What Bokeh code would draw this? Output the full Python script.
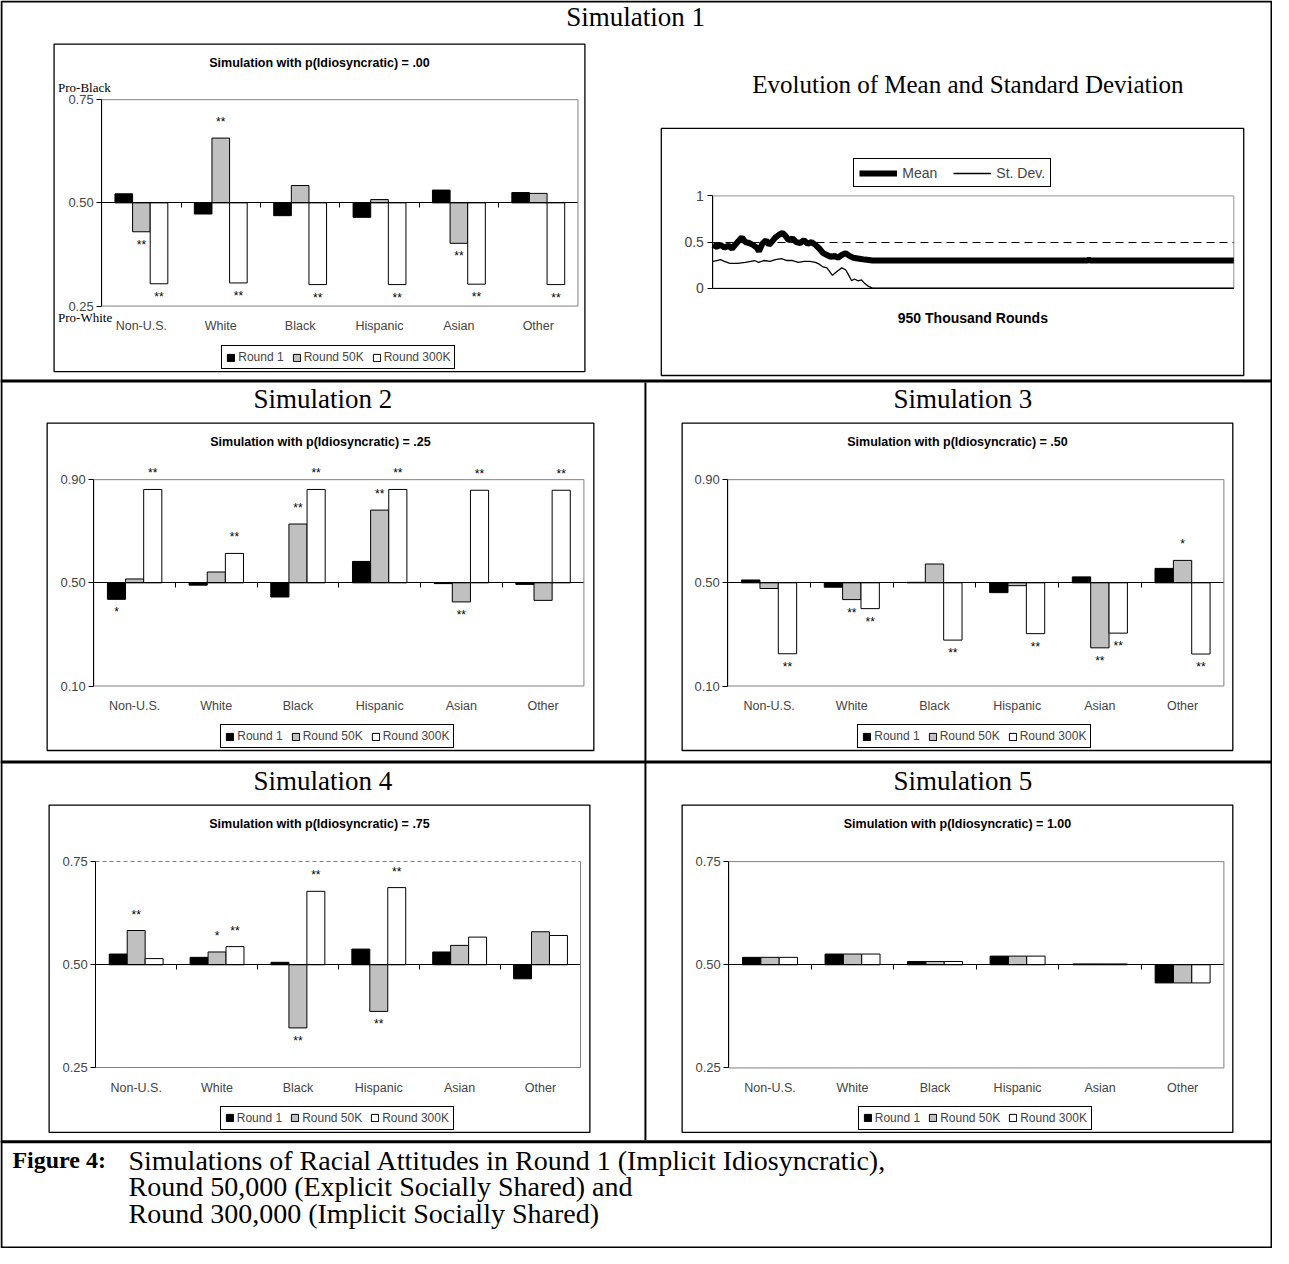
from bokeh.plotting import figure
from bokeh.models import (Range1d, LinearAxis, FixedTicker, Label, LabelSet, Legend, LegendItem,
                          Span, BoxAnnotation, ColumnDataSource, NumeralTickFormatter,
                          CustomJSTickFormatter)
from bokeh.core.properties import value
from bokeh.embed import file_html
from bokeh.resources import INLINE

SERIF = "Liberation Serif"
SANS = "Liberation Sans"

# ---------------- data ----------------
categories = ["Non-U.S.", "White", "Black", "Hispanic", "Asian", "Other"]
rounds = ["Round 1", "Round 50K", "Round 300K"]

sim1_r1 = [0.522, 0.473, 0.469, 0.465, 0.531, 0.525]
sim1_r50 = [0.430, 0.657, 0.542, 0.508, 0.402, 0.523]
sim1_r300 = [0.304, 0.306, 0.302, 0.302, 0.303, 0.302]
sim1_s1 = ["", "", "", "", "", ""]
sim1_s50 = ["**", "**", "", "", "**", ""]
sim1_s300 = ["**", "**", "**", "**", "**", "**"]

sim2_r1 = [0.436, 0.491, 0.445, 0.583, 0.497, 0.494]
sim2_r50 = [0.515, 0.542, 0.728, 0.782, 0.426, 0.432]
sim2_r300 = [0.862, 0.614, 0.862, 0.862, 0.859, 0.859]
sim2_s1 = ["*", "", "", "", "", ""]
sim2_s50 = ["", "", "**", "**", "**", ""]
sim2_s300 = ["**", "**", "**", "**", "**", "**"]

sim3_r1 = [0.511, 0.483, 0.502, 0.462, 0.523, 0.556]
sim3_r50 = [0.478, 0.435, 0.573, 0.489, 0.248, 0.587]
sim3_r300 = [0.225, 0.400, 0.278, 0.303, 0.305, 0.224]
sim3_s1 = ["", "", "", "", "", ""]
sim3_s50 = ["", "**", "", "", "**", "*"]
sim3_s300 = ["**", "**", "**", "**", "**", "**"]

sim4_r1 = [0.526, 0.518, 0.506, 0.538, 0.531, 0.466]
sim4_r50 = [0.583, 0.531, 0.347, 0.387, 0.547, 0.580]
sim4_r300 = [0.515, 0.544, 0.678, 0.687, 0.567, 0.571]
sim4_s1 = ["", "", "", "", "", ""]
sim4_s50 = ["**", "*", "**", "**", "", ""]
sim4_s300 = ["", "**", "**", "**", "", ""]

sim5_r1 = [0.518, 0.526, 0.508, 0.521, 0.502, 0.456]
sim5_r50 = [0.518, 0.526, 0.508, 0.521, 0.502, 0.456]
sim5_r300 = [0.518, 0.526, 0.508, 0.521, 0.502, 0.456]
sim5_s = ["", "", "", "", "", ""]

# evolution chart (x in thousand rounds)
evo_mean_k = [0, 7, 14, 21, 28, 35, 42, 48, 53, 59, 66, 73, 80, 84, 90, 97, 102, 107, 114, 121,
              127, 132, 138, 145, 152, 159, 166, 173, 180, 187, 194, 201, 208, 215, 222, 228, 235,
              242, 249, 256, 267, 277, 291, 400, 560, 683, 686, 689, 800, 950]
evo_mean = [0.47, 0.45, 0.47, 0.44, 0.46, 0.43, 0.48, 0.52, 0.55, 0.50, 0.49, 0.47, 0.44, 0.40,
            0.48, 0.52, 0.47, 0.50, 0.55, 0.58, 0.60, 0.57, 0.52, 0.54, 0.50, 0.49, 0.52, 0.48,
            0.50, 0.47, 0.43, 0.38, 0.36, 0.34, 0.35, 0.33, 0.36, 0.38, 0.35, 0.33, 0.32, 0.31,
            0.30, 0.30, 0.30, 0.30, 0.31, 0.30, 0.30, 0.30]
evo_sd_k = [0, 7, 14, 21, 31, 45, 59, 69, 76, 83, 93, 104, 114, 125, 135, 145, 156, 166, 177, 187,
            194, 201, 208, 213, 218, 224, 228, 235, 242, 247, 253, 258, 265, 271, 277, 284, 291, 950]
evo_sd = [0.29, 0.30, 0.31, 0.29, 0.27, 0.27, 0.28, 0.29, 0.30, 0.28, 0.30, 0.29, 0.31, 0.32, 0.30,
          0.30, 0.28, 0.29, 0.29, 0.28, 0.26, 0.23, 0.22, 0.18, 0.14, 0.17, 0.19, 0.22, 0.20, 0.15,
          0.08, 0.10, 0.08, 0.09, 0.05, 0.02, 0.00, 0.00]
evo_ticks = [0, 0.5, 1]

# ---------------- page canvas (page coordinates, y downwards) ----------------
W, H = 1272, 1248
RX0, RX1, RY0, RY1 = 5, 1287, 5, 1263
SX = W / (RX1 - RX0)
SY = H / (RY1 - RY0)

p = figure(width=W, height=H, x_range=Range1d(RX0, RX1), y_range=Range1d(RY1, RY0),
           min_border=0, x_axis_location=None, y_axis_location=None, toolbar_location=None,
           output_backend="svg", outline_line_color=None,
           background_fill_color="white", border_fill_color="white")
p.xgrid.visible = False
p.ygrid.visible = False

xr, yr = {}, {}


def add_ranges(name, lo_x, hi_x, PL, PR, lo_y, hi_y, PT, PB):
    kx = (hi_x - lo_x) * (RX1 - RX0) / (PR - PL)
    a = lo_x - kx * (PL - RX0) / (RX1 - RX0)
    xr[name] = Range1d(a, a + kx)
    m = (hi_y - lo_y) * (RY1 - RY0) / (PB - PT)
    c = lo_y - m * (RY1 - PB) / (RY1 - RY0)
    yr[name] = Range1d(c, c + m)


def text(t, x, y, size, font=SERIF, style="normal", align="center"):
    p.add_layout(Label(x=x, y=y, text=t, text_font=font, text_font_size=size,
                       text_font_style=style, text_align=align, text_baseline="middle",
                       text_color="black"))


def box(l, r, t, b, color="black", width=1, level="annotation", dash="solid"):
    p.add_layout(BoxAnnotation(left=l, right=r, top=t, bottom=b, fill_alpha=0,
                               line_color=color, line_alpha=1, line_width=width,
                               line_dash=dash, level=level))


def edge(name, side, loc, bounds, color, dash="solid"):
    ax = LinearAxis(x_range_name=name, y_range_name=name, fixed_location=loc, bounds=bounds,
                    ticker=FixedTicker(ticks=[]), axis_line_color=color, axis_line_dash=dash,
                    major_tick_line_color=None, minor_tick_line_color=None,
                    formatter=CustomJSTickFormatter(code="return ''"))
    p.add_layout(ax, side)


def screen(xref, yref):
    return ((xref - RX0) * SX, (RY1 - yref) * SY)


def bar_chart(name, title, bx, pl, ylo, yhi, yticks, series, stars, title_y,
              pro=False, dashed_top=False):
    BL, BR, BT, BB = bx
    PL, PR, PT, PB = pl
    n = len(categories)
    add_ranges(name, 0, n, PL, PR, ylo, yhi, PT, PB)
    box(BL, BR, BT, BB, width=1.3)
    if dashed_top:
        edge(name, "below", yhi, (0, n), "#808080", "4 3")
        edge(name, "below", ylo, (0, n), "#808080")
        edge(name, "right", n, (ylo, yhi), "#808080")
    else:
        box(PL, PR, PT, PB, color="#808080", level="underlay")
    offs = [-0.222, 0.0, 0.222]
    fills = ["black", "#c0c0c0", "white"]
    rends = []
    for vals, st, off, fc in zip(series, stars, offs, fills):
        src = ColumnDataSource(dict(x=[i + 0.5 + off for i in range(n)], top=vals))
        rends.append(p.vbar(x="x", top="top", bottom=0.5, width=0.222, source=src,
                            fill_color=fc, line_color="black", line_width=1,
                            x_range_name=name, y_range_name=name))
        idx = [i for i, s in enumerate(st) if s]
        if idx:
            ssrc = ColumnDataSource(dict(x=[i + 0.5 + off for i in idx],
                                         v=[vals[i] for i in idx],
                                         t=[st[i] for i in idx],
                                         off=[16 if vals[i] >= 0.5 else -13 for i in idx]))
            p.add_layout(LabelSet(x="x", y="v", text="t", y_offset="off", source=ssrc,
                                  x_range_name=name, y_range_name=name,
                                  text_align="center", text_baseline="middle",
                                  text_font=value(SANS), text_font_size="12px",
                                  text_color="black"))
    # value axis
    yax = LinearAxis(x_range_name=name, y_range_name=name, fixed_location=0,
                     bounds=(ylo, yhi), ticker=FixedTicker(ticks=yticks),
                     formatter=NumeralTickFormatter(format="0.00"),
                     major_tick_out=5, major_tick_in=0, minor_tick_out=0, minor_tick_in=0,
                     axis_line_color="black", major_tick_line_color="black",
                     major_label_text_font=SANS, major_label_text_font_size="13px",
                     major_label_standoff=3)
    p.add_layout(yax, "left")
    # category labels along the bottom
    cax = LinearAxis(x_range_name=name, y_range_name=name, fixed_location=ylo,
                     bounds=(0, n), ticker=FixedTicker(ticks=[i + 0.5 for i in range(n)]),
                     major_label_overrides={i + 0.5: c for i, c in enumerate(categories)},
                     major_tick_out=0, major_tick_in=0, minor_tick_out=0, minor_tick_in=0,
                     axis_line_color=None, major_tick_line_color=None,
                     major_label_text_font=SANS, major_label_text_font_size="12.5px",
                     major_label_standoff=13)
    p.add_layout(cax, "below")
    # 0.50 line with ticks between categories
    mid = LinearAxis(x_range_name=name, y_range_name=name, fixed_location=0.5,
                     bounds=(0, n), ticker=FixedTicker(ticks=list(range(1, n))),
                     formatter=CustomJSTickFormatter(code="return ''"),
                     major_tick_out=5, major_tick_in=0, minor_tick_out=0, minor_tick_in=0,
                     axis_line_color="black", major_tick_line_color="black")
    p.add_layout(mid, "below")
    text(title, (BL + BR) / 2, title_y, "12.5px", SANS, "bold")
    if pro:
        text("Pro-Black", BL + 4, PT - 12, "13px", SERIF, "normal", "left")
        text("Pro-White", BL + 4, PB + 12, "13px", SERIF, "normal", "left")
    lx, ly = screen((PL + PR) / 2 - 119, BB - 2)
    leg = Legend(items=[LegendItem(label=rn, renderers=[r]) for rn, r in zip(rounds, rends)],
                 orientation="horizontal", location=(lx, ly),
                 glyph_width=9, glyph_height=9, label_standoff=3, spacing=8, padding=4,
                 label_height=12, label_text_font=SANS, label_text_font_size="12px",
                 border_line_color="black", border_line_width=1, border_line_alpha=1,
                 margin=0, background_fill_color="white", background_fill_alpha=1)
    p.add_layout(leg)


# ---------------- table frame and headings ----------------
box(6, 1286, 6, 1262, width=2)
for ysep in (388.5, 772.5, 1155.5):
    p.add_layout(Span(location=ysep, dimension="width", line_color="black", line_width=3))
p.add_layout(BoxAnnotation(left=654, right=656, top=390, bottom=1154, fill_color="black",
                           fill_alpha=1, line_color=None))

HEAD = "27px"
text("Simulation 1", 645, 22, HEAD)
text("Evolution of Mean and Standard Deviation", 980, 90, "25px")
text("Simulation 2", 330, 407, HEAD)
text("Simulation 3", 975, 407, HEAD)
text("Simulation 4", 330, 792, HEAD)
text("Simulation 5", 975, 792, HEAD)

text("Figure 4:", 17, 1174, "24px", SERIF, "bold", "left")
text("Simulations of Racial Attitudes in Round 1 (Implicit Idiosyncratic),", 134, 1174,
     "28px", SERIF, "normal", "left")
text("Round 50,000 (Explicit Socially Shared) and", 134, 1201, "28px", SERIF, "normal", "left")
text("Round 300,000 (Implicit Socially Shared)", 134, 1228, "28px", SERIF, "normal", "left")

# ---------------- bar charts ----------------
bar_chart("s1", "Simulation with p(Idiosyncratic) = .00", (59, 594, 49, 379),
          (107, 587, 105, 313), 0.25, 0.75, [0.25, 0.5, 0.75],
          [sim1_r1, sim1_r50, sim1_r300], [sim1_s1, sim1_s50, sim1_s300], 68, pro=True)
bar_chart("s2", "Simulation with p(Idiosyncratic) = .25", (52, 603, 431, 761),
          (99, 593, 488, 696), 0.10, 0.90, [0.1, 0.5, 0.9],
          [sim2_r1, sim2_r50, sim2_r300], [sim2_s1, sim2_s50, sim2_s300], 450)
bar_chart("s3", "Simulation with p(Idiosyncratic) = .50", (692, 1247, 431, 761),
          (738, 1238, 488, 696), 0.10, 0.90, [0.1, 0.5, 0.9],
          [sim3_r1, sim3_r50, sim3_r300], [sim3_s1, sim3_s50, sim3_s300], 450)
bar_chart("s4", "Simulation with p(Idiosyncratic) = .75", (54, 599, 816, 1146),
          (101, 590, 873, 1081), 0.25, 0.75, [0.25, 0.5, 0.75],
          [sim4_r1, sim4_r50, sim4_r300], [sim4_s1, sim4_s50, sim4_s300], 835,
          dashed_top=True)
bar_chart("s5", "Simulation with p(Idiosyncratic) = 1.00", (692, 1247, 816, 1146),
          (739, 1238, 873, 1081), 0.25, 0.75, [0.25, 0.5, 0.75],
          [sim5_r1, sim5_r50, sim5_r300], [sim5_s, sim5_s, sim5_s], 835)

# ---------------- evolution chart ----------------
add_ranges("evo", 0, 950, 723, 1248, 0, 1, 202, 295)
box(671, 1258, 134, 383, width=1.3)
box(723, 1248, 202, 295, color="#909090", level="underlay")
edge("evo", "below", 0.5, (0, 950), "black", "8 5")
edge("evo", "below", 0, (0, 950), "black")
r_sd = p.line(evo_sd_k, evo_sd, line_width=1.3, line_color="black",
              x_range_name="evo", y_range_name="evo")
r_mean = p.line(evo_mean_k, evo_mean, line_width=6, line_color="black",
                x_range_name="evo", y_range_name="evo")
eyax = LinearAxis(x_range_name="evo", y_range_name="evo", fixed_location=0, bounds=(0, 1),
                  ticker=FixedTicker(ticks=evo_ticks),
                  major_label_overrides={0: "0", 0.5: "0.5", 1: "1"},
                  major_tick_out=5, major_tick_in=0, minor_tick_out=0, minor_tick_in=0,
                  axis_line_color="black", major_tick_line_color="black",
                  major_label_text_font=SANS, major_label_text_font_size="14px",
                  major_label_standoff=4)
p.add_layout(eyax, "left")
text("950 Thousand Rounds", 985, 325, "14px", SANS, "bold")
elx, ely = screen(865, 194)
p.add_layout(Legend(items=[LegendItem(label="Mean", renderers=[r_mean]),
                           LegendItem(label="St. Dev.", renderers=[r_sd])],
                    orientation="horizontal", location=(elx, ely),
                    glyph_width=38, glyph_height=14, label_standoff=5, spacing=16, padding=5,
                    label_height=17, label_text_font=SANS, label_text_font_size="14px",
                    border_line_color="black", border_line_width=1, border_line_alpha=1,
                    margin=0, background_fill_color="white", background_fill_alpha=1))

p.extra_x_ranges = xr
p.extra_y_ranges = yr

open("out.html", "w").write(file_html(p, INLINE, title="Figure 4"))
